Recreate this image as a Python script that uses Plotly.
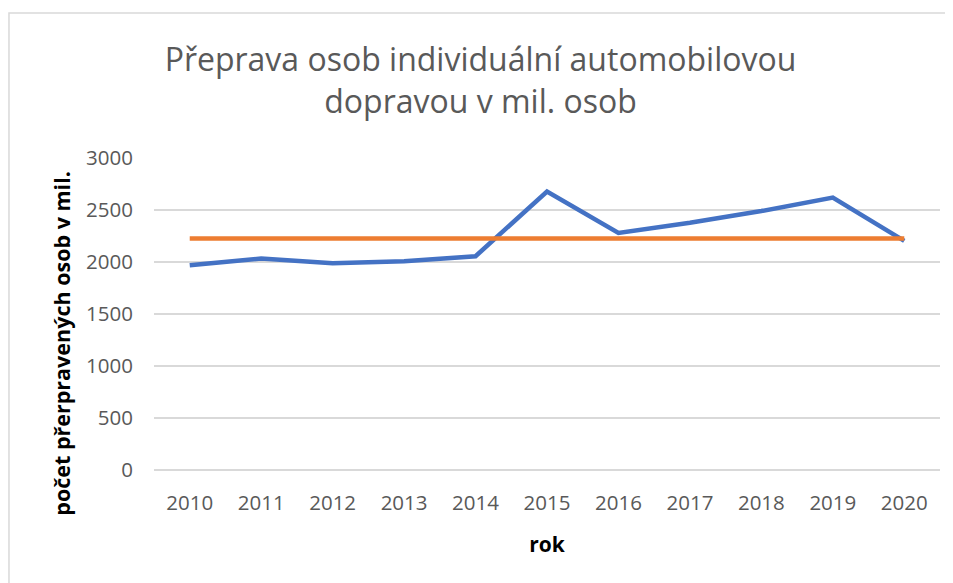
import plotly.graph_objects as go

roky = ["2010", "2011", "2012", "2013", "2014", "2015", "2016", "2017", "2018", "2019", "2020"]
prepravene_osoby = [1968, 2033, 1987, 2007, 2055, 2677, 2280, 2377, 2490, 2619, 2203]
prumer = [2226] * len(roky)

FONT = "Open Sans, sans-serif"

fig = go.Figure()
fig.add_trace(go.Scatter(x=roky, y=prepravene_osoby, mode="lines",
                         line=dict(color="#4472C4", width=4.5), name="osoby"))
fig.add_trace(go.Scatter(x=roky, y=prumer, mode="lines",
                         line=dict(color="#ED7D31", width=4.5), name="průměr"))

# chart border like in Excel
fig.add_shape(type="rect", xref="paper", yref="paper",
              x0=-0.1845, x1=1.2, y0=-0.6, y1=1.465,
              line=dict(color="#D9D9D9", width=1.5), layer="below")

# y title sits lower than the plot centre in the original, so it is an annotation
fig.add_annotation(text="<b>počet přerpravených osob v mil.</b>", textangle=-90,
                   xref="paper", yref="paper", x=-0.117, y=0.405,
                   xanchor="center", yanchor="middle", showarrow=False,
                   font=dict(size=21.5, color="black", family=FONT))

# page body has an 8px margin, so the figure is a bit smaller than the window
fig.update_layout(
    width=945, height=575,
    margin=dict(l=146, r=13, t=150, b=113),
    plot_bgcolor="white", paper_bgcolor="white",
    showlegend=False,
    font=dict(family=FONT, color="#595959"),
    title=dict(text="Přeprava osob individuální automobilovou<br>dopravou v mil. osob",
               x=0.5, xanchor="center", y=0.89, yanchor="top",
               font=dict(size=32, color="#595959", family=FONT)),
)
fig.update_xaxes(
    type="category", range=[-0.5, 10.5], showgrid=False, showline=False, ticks="",
    tickfont=dict(size=20.5, family=FONT, color="#595959"),
    ticklabelstandoff=18,
    title=dict(text="<b>rok</b>", font=dict(size=21, color="black", family=FONT),
               standoff=22),
)
fig.update_yaxes(
    range=[0, 3000], dtick=500, showgrid=True, gridcolor="#D9D9D9", gridwidth=1.5,
    zeroline=True, zerolinecolor="#D9D9D9", zerolinewidth=1.5, showline=False,
    tickfont=dict(size=20.5, family=FONT, color="#595959"),
    ticklabelstandoff=20,
)

fig.write_html("out.html")
